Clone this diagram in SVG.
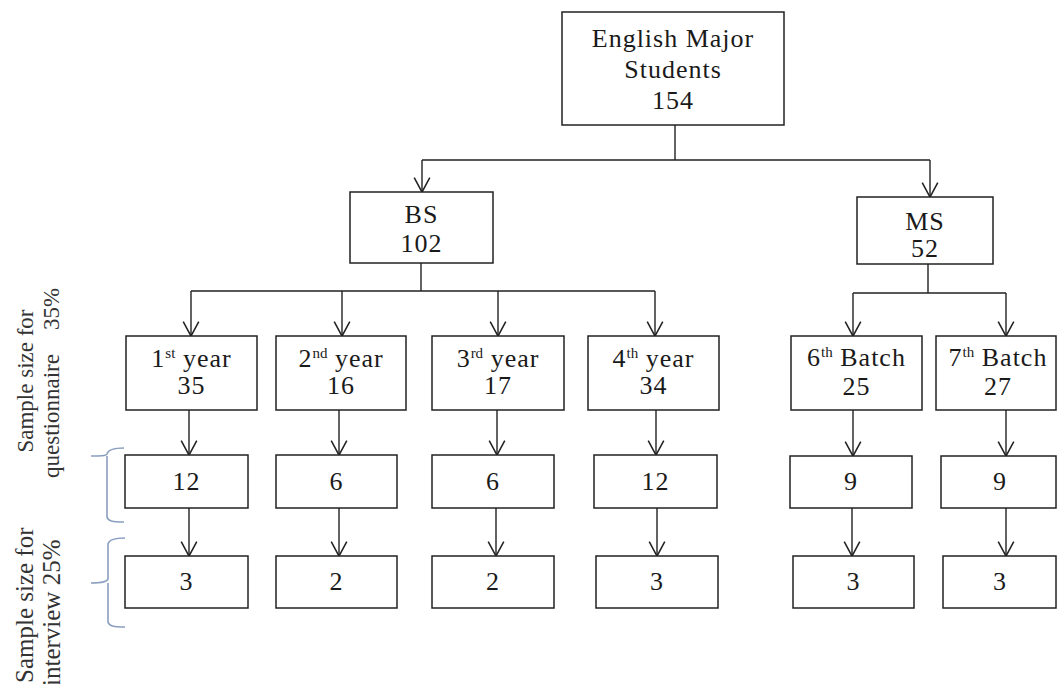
<svg xmlns="http://www.w3.org/2000/svg" width="1058" height="684" viewBox="0 0 1058 684">
<defs>
<style>
.box{fill:#fff;stroke:#222;stroke-width:1.5}
.t{font-family:"Liberation Serif","Times New Roman",serif;font-size:26px;letter-spacing:1px;fill:#1a1a1a;text-anchor:middle}
.sup{font-size:15px;letter-spacing:0}
.lab{font-family:"Liberation Serif","Times New Roman",serif;font-size:23px;fill:#333}
.lab2{font-family:"Liberation Serif","Times New Roman",serif;font-size:25px;fill:#333}
.ln{fill:none;stroke:#222;stroke-width:1.4}
.br{fill:none;stroke:#8a9ec0;stroke-width:1.6}
</style>
<marker id="arr" markerUnits="userSpaceOnUse" markerWidth="20" markerHeight="20" viewBox="-15 -9 17 18" refX="0" refY="0" orient="auto">
<path d="M-13,-7 L0,0 L-13,7" fill="none" stroke="#222" stroke-width="1.4"/>
</marker>
</defs>
<rect width="1058" height="684" fill="#fff"/>

<g id="connectors">
<path class="ln" d="M675,125 V160 M422,160 H930"/>
<path class="ln" marker-end="url(#arr)" d="M422,160 V192"/>
<path class="ln" marker-end="url(#arr)" d="M930,160 V197"/>
<path class="ln" d="M421,263 V291 M191,291 H655"/>
<path class="ln" marker-end="url(#arr)" d="M191,291 V336"/>
<path class="ln" marker-end="url(#arr)" d="M342,291 V336"/>
<path class="ln" marker-end="url(#arr)" d="M498,291 V336"/>
<path class="ln" marker-end="url(#arr)" d="M655,291 V336"/>
<path class="ln" d="M928,264 V293 M853,293 H1006"/>
<path class="ln" marker-end="url(#arr)" d="M853,293 V336"/>
<path class="ln" marker-end="url(#arr)" d="M1006,293 V336"/>
<path class="ln" marker-end="url(#arr)" d="M189,410 V455"/>
<path class="ln" marker-end="url(#arr)" d="M339,410 V455"/>
<path class="ln" marker-end="url(#arr)" d="M497,410 V455"/>
<path class="ln" marker-end="url(#arr)" d="M656,410 V455"/>
<path class="ln" marker-end="url(#arr)" d="M853,410 V456"/>
<path class="ln" marker-end="url(#arr)" d="M1006,410 V456"/>
<path class="ln" marker-end="url(#arr)" d="M189,508 V556"/>
<path class="ln" marker-end="url(#arr)" d="M339,508 V556"/>
<path class="ln" marker-end="url(#arr)" d="M496,508 V556"/>
<path class="ln" marker-end="url(#arr)" d="M657,508 V556"/>
<path class="ln" marker-end="url(#arr)" d="M852,508 V556"/>
<path class="ln" marker-end="url(#arr)" d="M1006,508 V556"/>
</g>

<g id="root">
<rect class="box" x="562" y="12" width="222" height="113"/>
<text class="t" x="673" y="47">English Major</text>
<text class="t" x="673" y="78">Students</text>
<text class="t" x="673" y="109">154</text>
</g>
<g id="bs">
<rect class="box" x="350" y="192" width="143" height="71"/>
<text class="t" x="421.5" y="223">BS</text>
<text class="t" x="421.5" y="252">102</text>
</g>
<g id="ms">
<rect class="box" x="857" y="197" width="136" height="67"/>
<text class="t" x="925" y="230">MS</text>
<text class="t" x="925" y="257">52</text>
</g>

<g id="y1">
<rect class="box" x="126" y="336" width="131" height="74"/>
<text class="t" x="191.5" y="367">1<tspan class="sup" dy="-9">st</tspan><tspan dy="9"> year</tspan></text>
<text class="t" x="191.5" y="394">35</text>
</g>
<g id="y2">
<rect class="box" x="276" y="336" width="130" height="74"/>
<text class="t" x="341" y="367">2<tspan class="sup" dy="-9">nd</tspan><tspan dy="9"> year</tspan></text>
<text class="t" x="341" y="394">16</text>
</g>
<g id="y3">
<rect class="box" x="432" y="336" width="132" height="74"/>
<text class="t" x="498" y="367">3<tspan class="sup" dy="-9">rd</tspan><tspan dy="9"> year</tspan></text>
<text class="t" x="498" y="394">17</text>
</g>
<g id="y4">
<rect class="box" x="588" y="336" width="131" height="74"/>
<text class="t" x="653.5" y="367">4<tspan class="sup" dy="-9">th</tspan><tspan dy="9"> year</tspan></text>
<text class="t" x="653.5" y="394">34</text>
</g>
<g id="b6">
<rect class="box" x="791" y="336" width="131" height="74"/>
<text class="t" x="856.5" y="366">6<tspan class="sup" dy="-9">th</tspan><tspan dy="9"> Batch</tspan></text>
<text class="t" x="856.5" y="395">25</text>
</g>
<g id="b7">
<rect class="box" x="936" y="336" width="120" height="74"/>
<text class="t" x="998" y="366">7<tspan class="sup" dy="-9">th</tspan><tspan dy="9"> Batch</tspan></text>
<text class="t" x="998" y="395">27</text>
</g>

<g id="q1"><rect class="box" x="125" y="455" width="123" height="53"/><text class="t" x="186.5" y="490">12</text></g>
<g id="q2"><rect class="box" x="276" y="455" width="121" height="53"/><text class="t" x="336.5" y="490">6</text></g>
<g id="q3"><rect class="box" x="432" y="455" width="122" height="53"/><text class="t" x="493" y="490">6</text></g>
<g id="q4"><rect class="box" x="594" y="455" width="123" height="53"/><text class="t" x="655.5" y="490">12</text></g>
<g id="q6"><rect class="box" x="790" y="456" width="122" height="52"/><text class="t" x="851" y="490">9</text></g>
<g id="q7"><rect class="box" x="941" y="456" width="115" height="52"/><text class="t" x="1000" y="490">9</text></g>

<g id="i1"><rect class="box" x="125" y="556" width="123" height="52"/><text class="t" x="186.5" y="590">3</text></g>
<g id="i2"><rect class="box" x="276" y="556" width="121" height="52"/><text class="t" x="336.5" y="590">2</text></g>
<g id="i3"><rect class="box" x="432" y="556" width="122" height="52"/><text class="t" x="493" y="590">2</text></g>
<g id="i4"><rect class="box" x="596" y="556" width="122" height="52"/><text class="t" x="657" y="590">3</text></g>
<g id="i6"><rect class="box" x="793" y="556" width="121" height="52"/><text class="t" x="853.5" y="590">3</text></g>
<g id="i7"><rect class="box" x="943" y="556" width="113" height="52"/><text class="t" x="1000" y="590">3</text></g>

<g id="labels">
<text class="lab" transform="rotate(-90)" x="-381" y="33" text-anchor="middle">Sample size for</text>
<text class="lab" transform="rotate(-90)" x="-478" y="59">questionnaire<tspan x="-330">35%</tspan></text>
<text class="lab2" transform="rotate(-90)" x="-683" y="33">Sample size for</text>
<text class="lab2" transform="rotate(-90)" x="-686" y="60">interview 25%</text>
<path class="br" d="M124,448 C112,448 108,450 107,454 C106,456 100,456 91,456 M107,456 V517 C108,521 112,522 124,522"/>
<path class="br" d="M125,538 C113,538 109,540 108,544 V579 C107,582 102,583 91,583 M108,583 V622 C109,626 113,627 125,627"/>
</g>
</svg>
